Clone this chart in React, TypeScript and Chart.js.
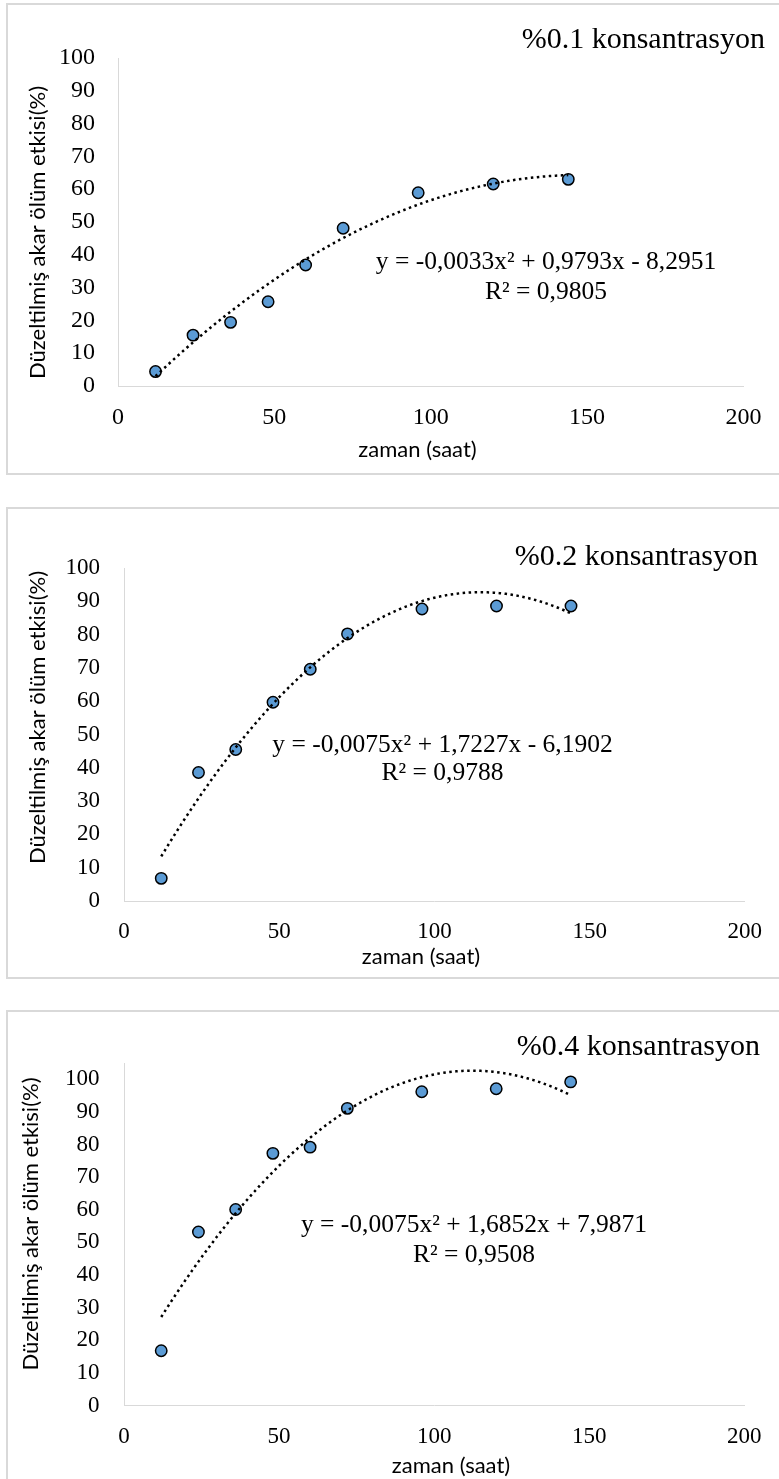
import React, { useEffect, useRef } from "react";
import { Chart, registerables } from "chart.js";

Chart.register(...registerables);

// ---------- data ----------
const hours = [12, 24, 36, 48, 60, 72, 96, 120, 144];
const values01 = [4.4, 15.5, 19.4, 25.7, 36.9, 48.1, 58.9, 61.6, 63.0];
const values02 = [6.8, 38.6, 45.5, 59.7, 69.6, 80.2, 87.7, 88.6, 88.6];
const values04 = [16.8, 53.2, 60.1, 77.3, 79.2, 91.1, 96.2, 97.1, 99.2];

// polynomial trendline coefficients as printed on the chart (a, b, c for ax² + bx + c)
const coef01 = [-0.0033, 0.9793, -8.2951];
const coef02 = [-0.0075, 1.7227, -6.1902];
const coef04 = [-0.0075, 1.6852, 7.9871];

const titles = ["%0.1 konsantrasyon", "%0.2 konsantrasyon", "%0.4 konsantrasyon"];
const equations = [
  "y = -0,0033x² + 0,9793x - 8,2951",
  "y = -0,0075x² + 1,7227x - 6,1902",
  "y = -0,0075x² + 1,6852x + 7,9871",
];
const r2Labels = ["R² = 0,9805", "R² = 0,9788", "R² = 0,9508"];
const xTitle = "zaman (saat)";
const yTitle = "Düzeltilmiş akar ölüm etkisi(%)";
const xMin = 0;
const xMax = 200;
const xStep = 50;
const yMin = 0;
const yMaxes = [100, 100, 105];
const yStep = 10;

// ---------- styling / layout ----------
const SERIF = "Liberation Serif, Times New Roman, serif";
const SANS = "Lato, Open Sans, sans-serif";
const CANVAS_W = 773;
const CANVAS_H = 472;

Chart.defaults.font.family = SERIF;
Chart.defaults.color = "#000";

type PanelLayout = {
  top: number;
  chartLeft: number;
  chartRight: number;
  chartTop: number;
  chartBottom: number;
  tickSize: number;
  yTickPad: number;
  xTickPad: number;
  yTitleX: number;
  yTitleY: number;
  xTitleX: number;
  xTitleBase: number;
  titleRight: number;
  titleBase: number;
  eqX: number;
  eqBase: number;
  r2Base: number;
};

const layouts: PanelLayout[] = [
  {
    top: 3, chartLeft: 112, chartRight: 742, chartTop: 55, chartBottom: 383,
    tickSize: 24, yTickPad: 23, xTickPad: 17.6,
    yTitleX: 31.5, yTitleY: 229.5, xTitleX: 411.5, xTitleBase: 453.7,
    titleRight: 759, titleBase: 45.3, eqX: 540, eqBase: 265.7, r2Base: 296,
  },
  {
    top: 507, chartLeft: 118, chartRight: 746, chartTop: 61, chartBottom: 394,
    tickSize: 23, yTickPad: 24, xTickPad: 16.9,
    yTitleX: 32, yTitleY: 210.5, xTitleX: 415, xTitleBase: 457,
    titleRight: 752, titleBase: 58, eqX: 436.5, eqBase: 244.7, r2Base: 273,
  },
  {
    top: 1010, chartLeft: 118, chartRight: 746, chartTop: 53, chartBottom: 395.5,
    tickSize: 23, yTickPad: 24.5, xTickPad: 17.4,
    yTitleX: 24.8, yTitleY: 214, xTitleX: 445, xTitleBase: 462.7,
    titleRight: 754, titleBase: 45, eqX: 468, eqBase: 222, r2Base: 252,
  },
];

function trendPoints(coef: number[], xs: number[]) {
  const pts: { x: number; y: number }[] = [];
  const start = xs[0];
  const end = xs[xs.length - 1];
  for (let x = start; x <= end; x += 1) {
    pts.push({ x, y: coef[0] * x * x + coef[1] * x + coef[2] });
  }
  return pts;
}

const textPlugin = {
  id: "panelText",
  afterDraw(chart: any, _args: any, opts: any) {
    const ctx = chart.ctx as CanvasRenderingContext2D;
    const items = opts.items || [];
    for (const t of items) {
      ctx.save();
      ctx.font = t.font;
      ctx.fillStyle = t.color;
      ctx.textAlign = t.align;
      ctx.textBaseline = t.baseline;
      ctx.translate(t.x, t.y);
      if (t.rotate) ctx.rotate(t.rotate);
      ctx.fillText(t.text, 0, 0);
      ctx.restore();
    }
  },
};

function Panel({ idx, values, coef }: { idx: number; values: number[]; coef: number[] }) {
  const ref = useRef<HTMLCanvasElement | null>(null);
  const L = layouts[idx];

  useEffect(() => {
    if (!ref.current) return;
    const points = hours.map((h, i) => ({ x: h, y: values[i] }));
    const tickFont = { family: SERIF, size: L.tickSize, lineHeight: 1.2, style: "normal" as const, weight: "normal" as const };
    const chart = new Chart(ref.current, {
      type: "scatter",
      data: {
        datasets: [
          {
            label: "trend",
            data: trendPoints(coef, hours),
            showLine: true,
            borderColor: "#000",
            borderWidth: 2.5,
            borderDash: [2.5, 3.5],
            pointRadius: 0,
            fill: false,
            tension: 0,
            order: 0,
          } as any,
          {
            label: "data",
            data: points,
            pointRadius: 5.7,
            pointBorderWidth: 1.5,
            backgroundColor: "#5B9BD5",
            borderColor: "#000",
            pointBackgroundColor: "#5B9BD5",
            pointBorderColor: "#000",
            order: 1,
          } as any,
        ],
      },
      options: {
        animation: false,
        responsive: false,
        maintainAspectRatio: false,
        devicePixelRatio: 1,
        events: [],
        layout: {
          padding: {
            left: 0,
            top: L.chartTop,
            right: CANVAS_W - L.chartRight,
            bottom: 0,
          },
        },
        plugins: {
          legend: { display: false },
          tooltip: { enabled: false },
          title: { display: false },
          panelText: {
            items: [
              {
                text: titles[idx], x: L.titleRight, y: L.titleBase, align: "right", baseline: "alphabetic",
                font: `30px ${SERIF}`, color: "#000",
              },
              {
                text: equations[idx], x: L.eqX, y: L.eqBase, align: "center", baseline: "alphabetic",
                font: `25.5px ${SERIF}`, color: "#000",
              },
              {
                text: r2Labels[idx], x: L.eqX, y: L.r2Base, align: "center", baseline: "alphabetic",
                font: `25.5px ${SERIF}`, color: "#000",
              },
              {
                text: xTitle, x: L.xTitleX, y: L.xTitleBase, align: "center", baseline: "alphabetic",
                font: `22px ${SANS}`, color: "#000",
              },
              {
                text: yTitle, x: L.yTitleX, y: L.yTitleY, align: "center", baseline: "middle",
                font: `22px ${SANS}`, color: "#000", rotate: -Math.PI / 2,
              },
            ],
          },
        } as any,
        scales: {
          x: {
            type: "linear",
            min: xMin,
            max: xMax,
            ticks: {
              stepSize: xStep,
              padding: L.xTickPad,
              color: "#000",
              maxRotation: 0,
              autoSkip: false,
              font: tickFont,
            },
            grid: { display: false, drawTicks: false },
            border: { display: true, color: "#d9d9d9", width: 1 },
            afterFit: (s: any) => {
              s.height = CANVAS_H - L.chartBottom;
            },
          },
          y: {
            type: "linear",
            min: yMin,
            max: yMaxes[idx],
            ticks: {
              stepSize: yStep,
              includeBounds: false,
              padding: L.yTickPad,
              color: "#000",
              autoSkip: false,
              font: tickFont,
            },
            grid: { display: false, drawTicks: false },
            border: { display: true, color: "#d9d9d9", width: 1 },
            afterFit: (s: any) => {
              s.width = L.chartLeft;
            },
          },
        },
      },
      plugins: [textPlugin as any],
    });
    return () => chart.destroy();
  }, [idx, values, coef]);

  return (
    <>
      <canvas
        ref={ref}
        width={CANVAS_W}
        height={CANVAS_H}
        style={{ position: "absolute", left: 6, top: L.top, width: CANVAS_W, height: CANVAS_H, display: "block" }}
      />
      <div
        style={{
          position: "absolute",
          left: 6,
          top: L.top,
          width: 775,
          height: CANVAS_H,
          boxSizing: "border-box",
          border: "2px solid #d9d9d9",
          pointerEvents: "none",
        }}
      />
    </>
  );
}

export default function App() {
  return (
    <div
      style={{
        position: "absolute",
        left: 0,
        top: 0,
        width: 779,
        height: 1479,
        overflow: "hidden",
        background: "#fff",
      }}
    >
      <Panel idx={0} values={values01} coef={coef01} />
      <Panel idx={1} values={values02} coef={coef02} />
      <Panel idx={2} values={values04} coef={coef04} />
    </div>
  );
}
